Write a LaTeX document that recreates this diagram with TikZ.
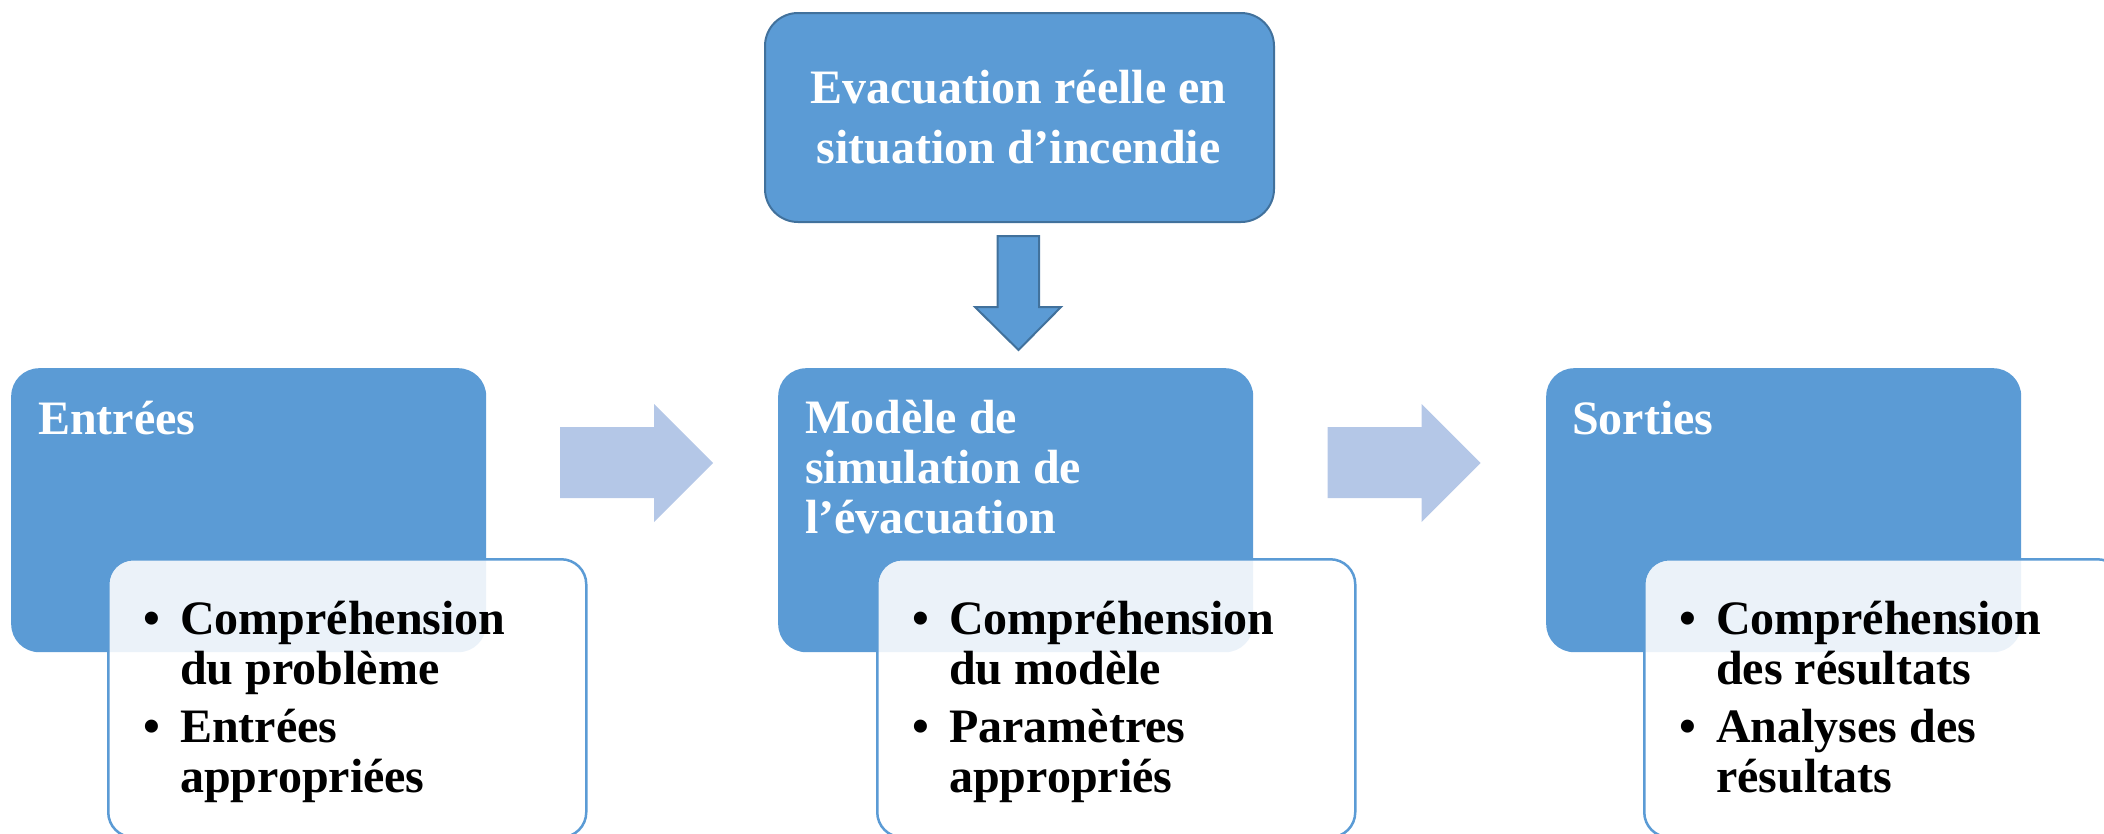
\documentclass[tikz,border=0pt]{standalone}
\usepackage{fontspec}
\setmainfont{Liberation Serif}
\definecolor{mblue}{HTML}{5B9BD5}
\definecolor{dblue}{HTML}{41719C}
\definecolor{lblue}{HTML}{B4C7E7}
\newcommand{\bul}{\leavevmode\llap{•\hspace{20pt}}}
\begin{document}
\begin{tikzpicture}[x=1pt,y=-1pt,
  mainbox/.style={fill=mblue, draw=none, rounded corners=28pt, minimum width=475pt, minimum height=284pt, anchor=north west, inner sep=0pt},
  subbox/.style={fill=white, fill opacity=0.88, draw=mblue, line width=2.5pt, rounded corners=25pt, minimum width=478pt, minimum height=278pt, anchor=north west, inner sep=0pt},
  topbox/.style={fill=mblue, draw=dblue, line width=2pt, rounded corners=33pt, minimum width=509pt, minimum height=209pt, anchor=north west, inner sep=0pt},
  head/.style={anchor=base west, inner sep=0pt, text=white, font=\bfseries\fontsize{48}{50}\selectfont},
  toptext/.style={anchor=base, inner sep=0pt, text=white, font=\bfseries\fontsize{48}{60}\selectfont},
  items/.style={anchor=base west, inner sep=0pt, text=black, font=\bfseries\fontsize{48}{50}\selectfont},
  blockarrow/.style={fill=lblue, draw=none},
  downarrow/.style={fill=mblue, draw=dblue, line width=2pt, line join=miter}
]
\useasboundingbox (0,0) rectangle (2104,833);
\clip (0,0) rectangle (2104,833);

% top box
\node[topbox] (top) at (764,12) {};
\node[toptext] (toptxt) at (1018.5,103) {\parbox[t]{500pt}{\centering Evacuation réelle en\\situation d’incendie}};

% down arrow
\draw[downarrow] (997.5,236) -- (1039,236) -- (1039,307) -- (1061,307) -- (1018.5,350) -- (975,307) -- (997.5,307) -- cycle;

% main boxes
\node[mainbox] (in) at (11,368) {};
\node[mainbox] (mod) at (778,368) {};
\node[mainbox] (out) at (1546,368) {};

% right arrows
\draw[blockarrow] (560,427) -- (654,427) -- (654,404) -- (713,463) -- (654,522) -- (654,498) -- (560,498) -- cycle;
\draw[blockarrow] (1327.5,427) -- (1421.5,427) -- (1421.5,404) -- (1480.5,463) -- (1421.5,522) -- (1421.5,498) -- (1327.5,498) -- cycle;

% sub boxes
\node[subbox] (insub) at (107,558) {};
\node[subbox] (modsub) at (876,558) {};
\node[subbox] (outsub) at (1643,558) {};

% headings
\node[head] (inh) at (38,434) {Entrées};
\node[head] (modh) at (805,433) {\parbox[t]{440pt}{Modèle de\\simulation de\\l’évacuation}};
\node[head] (outh) at (1572,434) {Sorties};

% bullet lists
\node[items] (inl) at (180,634) {\parbox[t]{380pt}{\setlength{\parskip}{8pt}\raggedright
  \bul Compréhension\\du problème\par
  \bul Entrées\\appropriées}};
\node[items] (modl) at (949,634) {\parbox[t]{380pt}{\setlength{\parskip}{8pt}\raggedright
  \bul Compréhension\\du modèle\par
  \bul Paramètres\\appropriés}};
\node[items] (outl) at (1716,634) {\parbox[t]{380pt}{\setlength{\parskip}{8pt}\raggedright
  \bul Compréhension\\des résultats\par
  \bul Analyses des\\résultats}};
\end{tikzpicture}
\end{document}
